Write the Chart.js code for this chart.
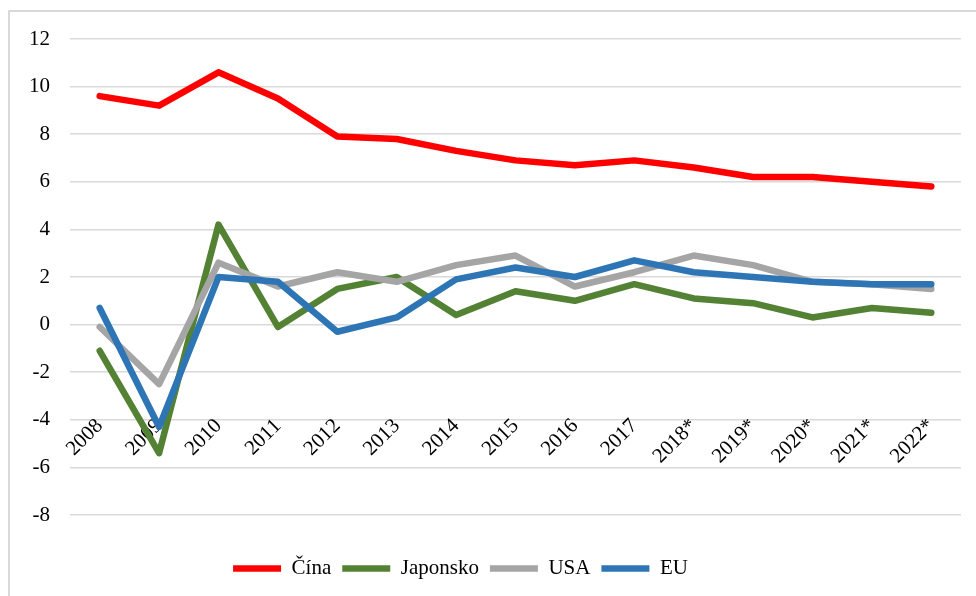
<!DOCTYPE html>
<html lang="cs">
<head>
<meta charset="UTF-8">
<title>HDP</title>
<script src="https://cdn.jsdelivr.net/npm/chart.js"></script>
<style>
  html, body { margin: 0; padding: 0; background: #fff; }
  #wrap { position: relative; width: 976px; height: 596px; }
  /* rámeček grafu (vidět je jen horní a levá hrana) */
  #frame {
    position: absolute; left: 8px; top: 10px; right: 0; bottom: 0;
    border-left: 2px solid #d9d9d9; border-top: 2px solid #d9d9d9;
    pointer-events: none;
  }
  canvas { position: absolute; left: 0; top: 0; }
</style>
</head>
<body>
<div id="wrap">
  <canvas id="chart" width="976" height="596"></canvas>
  <div id="frame"></div>
</div>
<script>
// roky
var years = ['2008', '2009', '2010', '2011', '2012', '2013', '2014', '2015',
             '2016', '2017', '2018*', '2019*', '2020*', '2021*', '2022*'];

// růst HDP v %
var cina     = [9.6, 9.2, 10.6, 9.5, 7.9, 7.8, 7.3, 6.9, 6.7, 6.9, 6.6, 6.2, 6.2, 6.0, 5.8];
var japonsko = [-1.1, -5.4, 4.2, -0.1, 1.5, 2.0, 0.4, 1.4, 1.0, 1.7, 1.1, 0.9, 0.3, 0.7, 0.5];
var usa      = [-0.1, -2.5, 2.6, 1.6, 2.2, 1.8, 2.5, 2.9, 1.6, 2.2, 2.9, 2.5, 1.8, 1.7, 1.5];
var eu       = [0.7, -4.3, 2.0, 1.8, -0.3, 0.3, 1.9, 2.4, 2.0, 2.7, 2.2, 2.0, 1.8, 1.7, 1.7];

var yMin = -8, yMax = 12, yStep = 2;

var font = { family: '"Liberation Serif", "Times New Roman", serif', size: 21 };

function serie(label, data, color, order) {
  return {
    label: label,
    data: data,
    borderColor: color,
    backgroundColor: color,
    borderWidth: 6.5,
    borderCapStyle: 'round',
    borderJoinStyle: 'round',
    pointRadius: 0,
    pointHoverRadius: 0,
    pointStyle: 'line',
    tension: 0,
    order: order
  };
}

// mezera mezi grafem a legendou + posun legendy doleva
var legendGap = 33;
var legendShift = {
  id: 'legendShift',
  beforeLayout: function (chart) {
    var lg = chart.legend;
    if (lg && !lg._gapPatched) {
      var fit = lg.fit;
      lg.fit = function () {
        fit.call(this);
        this.height += legendGap;
      };
      lg._gapPatched = true;
    }
  },
  afterLayout: function (chart) {
    var lg = chart.legend;
    if (lg) {
      lg.left -= 20;
      lg.right -= 20;
      lg.top += legendGap - 1;
    }
  }
};

new Chart(document.getElementById('chart'), {
  type: 'line',
  data: {
    labels: years,
    datasets: [
      serie('Čína', cina, '#ff0000', 3),
      serie('Japonsko', japonsko, '#548235', 2),
      serie('USA', usa, '#a5a5a5', 1),
      serie('EU', eu, '#2e75b6', 0)
    ]
  },
  options: {
    responsive: false,
    animation: false,
    layout: { padding: { top: 39, right: 15, bottom: 6, left: 0 } },
    plugins: {
      tooltip: { enabled: false },
      legend: {
        position: 'bottom',
        labels: {
          usePointStyle: true,
          pointStyleWidth: 48,
          padding: 11,
          color: '#000',
          font: font,
          sort: function (a, b) { return a.datasetIndex - b.datasetIndex; }
        }
      }
    },
    scales: {
      x: {
        type: 'category',
        offset: true,
        position: { y: -3.75 },
        grid: { display: false, drawTicks: false },
        border: { display: false },
        ticks: {
          color: '#000',
          font: font,
          minRotation: 45,
          maxRotation: 45,
          padding: 0,
          autoSkip: false
        }
      },
      y: {
        min: yMin,
        max: yMax,
        afterFit: function (scale) { scale.width = 70; },
        grid: { color: '#d9d9d9', lineWidth: 1.5, drawTicks: false },
        border: { display: false },
        ticks: {
          stepSize: yStep,
          color: '#000',
          font: font,
          padding: 20
        }
      }
    }
  },
  plugins: [legendShift]
});
</script>
</body>
</html>
